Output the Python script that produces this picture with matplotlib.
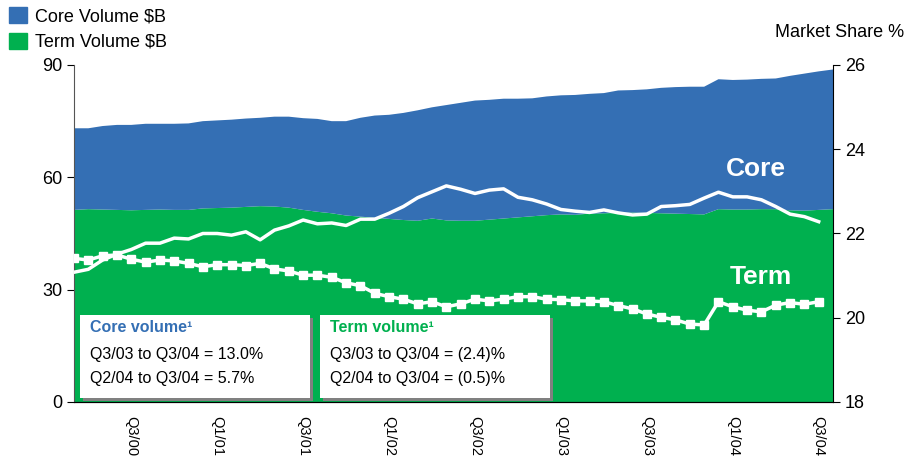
import numpy as np
import matplotlib.pyplot as plt
from matplotlib.patches import Patch, Rectangle

plt.rcParams['font.family'] = ['Liberation Sans', 'DejaVu Sans']

# Monthly volumes ($B), May 2000 .. Oct 2004
term_volume = [51.3, 51.5, 51.4, 51.3, 51.2, 51.3, 51.4, 51.3, 51.3, 51.7,
               51.8, 51.9, 52.1, 52.3, 52.2, 51.9, 51.3, 50.8, 50.4, 49.8,
               49.5, 49.2, 48.9, 48.6, 48.4, 49.0, 48.5, 48.4, 48.4, 48.7,
               49.0, 49.3, 49.6, 49.9, 50.1, 50.0, 50.3, 50.4, 50.5, 50.6,
               50.5, 50.4, 50.3, 50.2, 50.1, 51.5, 51.4, 51.4, 51.5, 51.5,
               51.2, 51.1, 51.3, 51.5]
core_volume = [21.8, 21.6, 22.3, 22.7, 22.8, 23.0, 22.9, 23.0, 23.1, 23.3,
               23.4, 23.5, 23.6, 23.6, 24.0, 24.3, 24.5, 24.8, 24.6, 25.2,
               26.4, 27.3, 27.8, 28.6, 29.5, 29.7, 30.8, 31.5, 32.1, 32.0,
               32.0, 31.7, 31.5, 31.7, 31.8, 32.0, 32.0, 32.1, 32.7, 32.7,
               33.0, 33.5, 33.8, 34.0, 34.1, 34.7, 34.6, 34.7, 34.8, 34.9,
               35.9, 36.6, 37.0, 37.3]

# Market share (%), May 2000 .. Sep 2004
core_share = [21.08, 21.15, 21.37, 21.51, 21.62, 21.77, 21.77, 21.89, 21.87, 22.0,
              22.0, 21.96, 22.04, 21.85, 22.08, 22.18, 22.32, 22.23, 22.25, 22.19,
              22.34, 22.34, 22.48, 22.64, 22.85, 22.99, 23.13, 23.05, 22.95, 23.03,
              23.06, 22.86, 22.8, 22.7, 22.57, 22.53, 22.5, 22.56, 22.49, 22.44,
              22.46, 22.64, 22.66, 22.69, 22.84, 22.98, 22.87, 22.87, 22.8, 22.64,
              22.46, 22.4, 22.28]
term_share = [21.41, 21.37, 21.47, 21.49, 21.39, 21.32, 21.37, 21.35, 21.29, 21.21,
              21.26, 21.26, 21.24, 21.29, 21.16, 21.11, 21.01, 21.01, 20.96, 20.83,
              20.76, 20.58, 20.5, 20.44, 20.33, 20.38, 20.26, 20.33, 20.44, 20.4,
              20.44, 20.5, 20.5, 20.44, 20.43, 20.4, 20.4, 20.38, 20.29, 20.21,
              20.09, 20.01, 19.95, 19.85, 19.83, 20.38, 20.26, 20.18, 20.14, 20.3,
              20.36, 20.32, 20.38]

quarter_labels = ['Q3/00', 'Q1/01', 'Q3/01', 'Q1/02', 'Q3/02',
                  'Q1/03', 'Q3/03', 'Q1/04', 'Q3/04']
quarter_pos = [4, 10, 16, 22, 28, 34, 40, 46, 52]

blue = '#346FB4'
green = '#00B04F'

fig = plt.figure(figsize=(9.11, 4.59), dpi=100)
ax = fig.add_axes([0.0812, 0.1242, 0.8332, 0.7342])

x_area = np.arange(len(term_volume))
x_line = np.arange(len(core_share))
ax.stackplot(x_area, term_volume, core_volume, colors=[green, blue], linewidth=0)
ax.set_xlim(0, len(term_volume) - 1)
ax.set_ylim(0, 90)
ax.set_yticks([0, 30, 60, 90])
ax.tick_params(axis='y', labelsize=13, length=5, direction='out')
ax.set_xticks(quarter_pos)
ax.set_xticklabels(quarter_labels, rotation=-90, fontsize=10.5)
ax.tick_params(axis='x', length=0, pad=10)
ax.spines['top'].set_visible(False)
ax.spines['right'].set_visible(False)
ax.spines['left'].set_color('#555555')

ax2 = ax.twinx()
ax2.plot(x_line, core_share, color='white', lw=2.5)
ax2.plot(x_line, term_share, color='white', lw=2.5, marker='s', markersize=6)
ax2.set_ylim(18, 26)
ax2.set_yticks([18, 20, 22, 24, 26])
ax2.tick_params(axis='y', labelsize=13, length=5, direction='out')
ax2.spines['top'].set_visible(False)
ax2.spines['left'].set_visible(False)

ax2.text(0.899, 0.69, 'Core', transform=ax.transAxes, color='white',
         fontsize=19, fontweight='bold', ha='center', va='center')
ax2.text(0.905, 0.372, 'Term', transform=ax.transAxes, color='white',
         fontsize=19, fontweight='bold', ha='center', va='center')

fig.text(0.993, 0.93, 'Market Share %', ha='right', va='center', fontsize=13)

# Summary boxes
boxes = [
    (0.008, 'Core volume¹', blue, ['Q3/03 to Q3/04 = 13.0%', 'Q2/04 to Q3/04 = 5.7%']),
    (0.324, 'Term volume¹', green, ['Q3/03 to Q3/04 = (2.4)%', 'Q2/04 to Q3/04 = (0.5)%']),
]
for x0, title, col, rows in boxes:
    ax2.add_patch(Rectangle((x0 + 0.004, 0.004), 0.303, 0.245, transform=ax.transAxes,
                            facecolor='#808080', edgecolor='none', zorder=5))
    ax2.add_patch(Rectangle((x0, 0.012), 0.303, 0.245, transform=ax.transAxes,
                            facecolor='white', edgecolor='none', zorder=6))
    ax2.text(x0 + 0.013, 0.22, title, transform=ax.transAxes, color=col,
             fontsize=11.5, fontweight='bold', va='center', zorder=7)
    ax2.text(x0 + 0.013, 0.14, rows[0], transform=ax.transAxes,
             fontsize=11.5, va='center', zorder=7)
    ax2.text(x0 + 0.013, 0.07, rows[1], transform=ax.transAxes,
             fontsize=11.5, va='center', zorder=7)

handles = [Patch(color=blue, label='Core Volume $B'),
           Patch(color=green, label='Term Volume $B')]
fig.legend(handles=handles, loc='upper left', bbox_to_anchor=(-0.004, 1.012),
           frameon=False, fontsize=13, handlelength=1.0, handleheight=1.0,
           handletextpad=0.45, labelspacing=0.4, borderaxespad=0.3)

fig.savefig('out.png', dpi=100)
